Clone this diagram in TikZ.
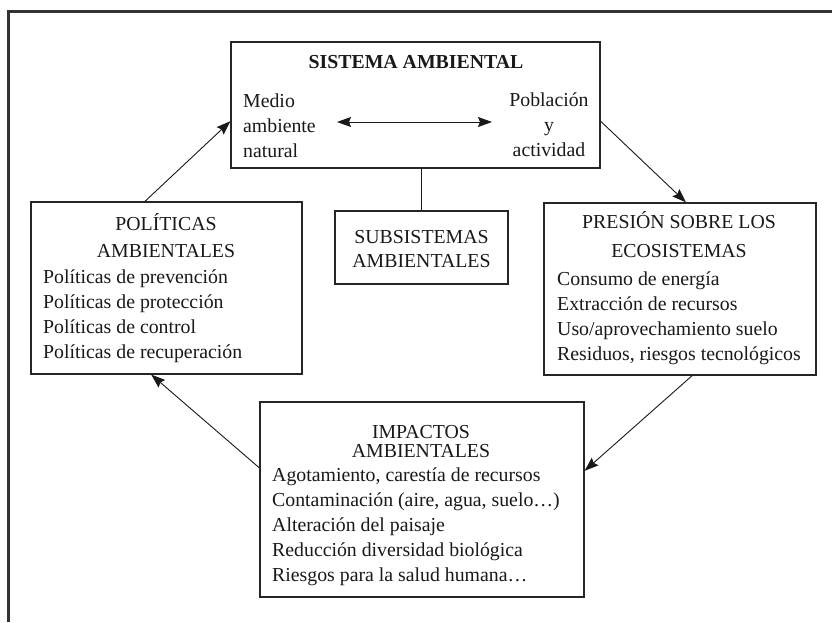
\documentclass[tikz,border=0pt]{standalone}
\usepackage{fontspec}
\setmainfont{Liberation Serif}
\usetikzlibrary{arrows.meta,calc}
\begin{document}
\begin{tikzpicture}[x=1pt,y=-1pt,
  txt/.style={font=\fontsize{19.8}{25}\selectfont, text=black!90, inner sep=0pt},
  box/.style={draw=black!85, line width=1.2pt, inner sep=0pt},
  frameline/.style={draw=black!80, line width=3pt},
  link/.style={draw=black!90, line width=0.9pt},
  arr/.style={link, -{Stealth[length=14pt,width=10pt,inset=2pt]}},
  dblarr/.style={link, {Stealth[length=14pt,width=10pt,inset=2pt]}-{Stealth[length=14pt,width=10pt,inset=2pt]}}]
\useasboundingbox (0,0) rectangle (832,622);
\fill[white] (0,0) rectangle (832,622);
% outer frame (left and top edges)
\draw[frameline] (8,622) -- (8,11) -- (832,11);

% boxes
\node[box, minimum width=369pt, minimum height=126pt] (sis) at (415.5,105) {};
\node[box, minimum width=173pt, minimum height=73pt]  (sub) at (421.5,247.5) {};
\node[box, minimum width=271pt, minimum height=172pt] (pol) at (166.5,288) {};
\node[box, minimum width=272pt, minimum height=172pt] (pre) at (680,289) {};
\node[box, minimum width=324pt, minimum height=195pt] (imp) at (422,499.5) {};

% central system (multi-line nodes are anchored at their last baseline)
\node[txt, anchor=base, font=\fontsize{19.8}{25}\selectfont\bfseries] (sist) at (416,68) {SISTEMA AMBIENTAL};
\node[txt, anchor=base west, align=left] (medio) at (243,157) {Medio\\ambiente\\natural};
\node[txt, anchor=base, align=center] (pobl) at (549,156) {Población\\y\\actividad};
\coordinate (dl) at (337,122);
\coordinate (dr) at (492,122);
\draw[dblarr] (dl) -- (dr);
\draw[link, line width=1.2pt] (sub.north) -- (sub.north |- sis.south);

% subsystems
\node[txt, anchor=base, align=center, font=\fontsize{19.8}{24}\selectfont] (subt) at (421.5,267) {SUBSISTEMAS\\AMBIENTALES};

% policies
\node[txt, anchor=base, align=center, font=\fontsize{19.8}{27}\selectfont] (polt) at (166,257) {POLÍTICAS\\AMBIENTALES};
\node[txt, anchor=base west, align=left] (poll) at (43,358) {Políticas de prevención\\Políticas de protección\\Políticas de control\\Políticas de recuperación};

% pressure
\node[txt, anchor=base, align=center, font=\fontsize{19.8}{29}\selectfont] (pret) at (679,257) {PRESIÓN SOBRE LOS\\ECOSISTEMAS};
\node[txt, anchor=base west, align=left] (prel) at (557,360) {Consumo de energía\\Extracción de recursos\\Uso/aprovechamiento suelo\\Residuos, riesgos tecnológicos};

% impacts
\node[txt, anchor=base, align=center, font=\fontsize{19.8}{19}\selectfont] (impt) at (421,457) {IMPACTOS\\AMBIENTALES};
\node[txt, anchor=base west, align=left] (impl) at (272,581) {Agotamiento, carestía de recursos\\Contaminación (aire, agua, suelo…)\\Alteración del paisaje\\Reducción diversidad biológica\\Riesgos para la salud humana…};

% cycle
\draw[arr] (pol.104) -- (sis.185);
\draw[arr] (sis.355.4) -- (pre.86.7);
\draw[arr] (pre.278) -- (imp.10.3);
\draw[arr] (imp.169.7) -- (pol.260.4);
\end{tikzpicture}
\end{document}
